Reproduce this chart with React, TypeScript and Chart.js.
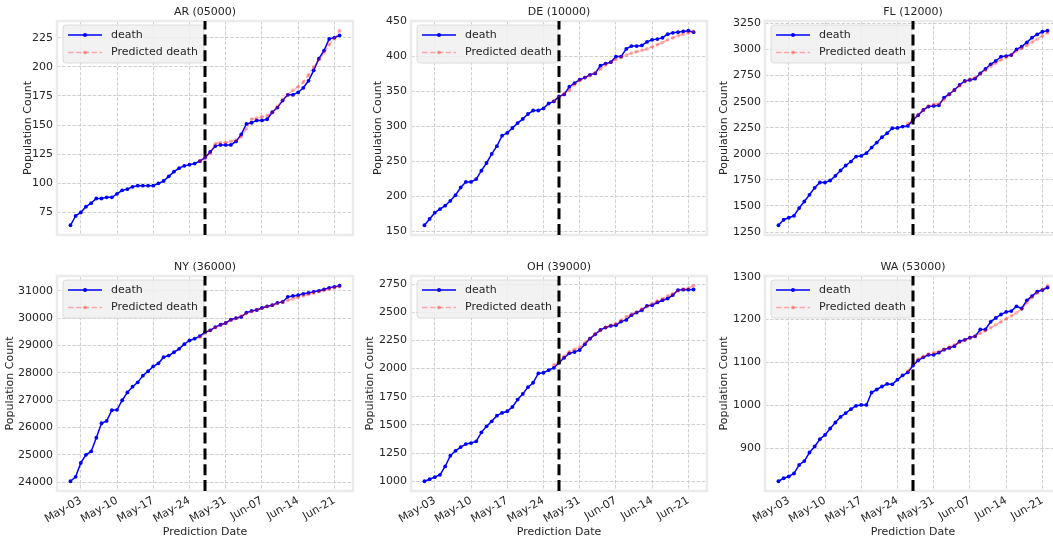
import React, { useEffect, useRef } from 'react';
import { Chart, registerables } from 'chart.js';

Chart.register(...registerables);

const FONT = "'DejaVu Sans', sans-serif";
const TEXT = '#262626';

const DATES = [
  'May-01', 'May-02', 'May-03', 'May-04', 'May-05', 'May-06', 'May-07', 'May-08', 'May-09', 'May-10',
  'May-11', 'May-12', 'May-13', 'May-14', 'May-15', 'May-16', 'May-17', 'May-18', 'May-19', 'May-20',
  'May-21', 'May-22', 'May-23', 'May-24', 'May-25', 'May-26', 'May-27', 'May-28', 'May-29', 'May-30',
  'May-31', 'Jun-01', 'Jun-02', 'Jun-03', 'Jun-04', 'Jun-05', 'Jun-06', 'Jun-07', 'Jun-08', 'Jun-09',
  'Jun-10', 'Jun-11', 'Jun-12', 'Jun-13', 'Jun-14', 'Jun-15', 'Jun-16', 'Jun-17', 'Jun-18', 'Jun-19',
  'Jun-20', 'Jun-21', 'Jun-22',
];
const X_TICK_LABELS = ['May-03', 'May-10', 'May-17', 'May-24', 'May-31', 'Jun-07', 'Jun-14', 'Jun-21'];
const SPLIT_DATE = 'May-27';
const PRED_START_DATE = 'May-26';

const AR_DEATH = [64, 72, 75, 80, 83, 87, 87, 88, 88, 91, 94, 95, 97, 98, 98, 98, 98, 100, 102, 106, 110, 113, 115, 116, 117, 119, 122, 127, 132, 133, 133, 133, 136, 142, 151, 152, 154, 154, 155, 161, 165, 171, 176, 176, 178, 182, 188, 197, 207, 214, 224, 225, 227];
const AR_PRED = [119, 122, 126, 134, 135, 135, 136, 137, 140, 147, 155, 156, 157, 158, 161, 166, 172, 176, 180, 183, 187, 193, 200, 206, 212, 219, 224, 231];
const AR_Y_TICKS = [75, 100, 125, 150, 175, 200, 225];

const DE_DEATH = [159, 168, 177, 182, 187, 194, 202, 213, 221, 221, 225, 237, 248, 261, 272, 287, 291, 298, 305, 311, 318, 323, 323, 326, 333, 336, 343, 346, 357, 362, 367, 370, 374, 376, 387, 390, 392, 400, 400, 411, 415, 415, 416, 421, 424, 425, 427, 432, 434, 435, 436, 437, 435];
const DE_PRED = [336, 342, 347, 352, 360, 366, 370, 373, 377, 382, 388, 392, 396, 399, 402, 405, 407, 409, 411, 414, 417, 420, 424, 427, 430, 432, 434, 436];
const DE_Y_TICKS = [150, 200, 250, 300, 350, 400, 450];

const FL_DEATH = [1315, 1368, 1387, 1406, 1480, 1543, 1607, 1674, 1725, 1725, 1744, 1789, 1840, 1888, 1926, 1974, 1980, 2006, 2060, 2108, 2159, 2197, 2245, 2248, 2261, 2267, 2325, 2370, 2421, 2453, 2459, 2465, 2539, 2571, 2612, 2660, 2698, 2708, 2720, 2772, 2813, 2858, 2890, 2931, 2937, 2947, 3001, 3027, 3068, 3113, 3145, 3170, 3180];
const FL_PRED = [2290, 2330, 2375, 2420, 2460, 2475, 2480, 2520, 2570, 2610, 2650, 2690, 2715, 2730, 2765, 2800, 2840, 2870, 2900, 2925, 2950, 2985, 3010, 3040, 3070, 3100, 3130, 3160];
const FL_Y_TICKS = [1250, 1500, 1750, 2000, 2250, 2500, 2750, 3000, 3250];

const NY_DEATH = [24040, 24200, 24710, 25005, 25130, 25630, 26160, 26245, 26635, 26650, 27000, 27285, 27495, 27655, 27900, 28060, 28240, 28350, 28575, 28635, 28755, 28880, 29050, 29185, 29250, 29345, 29490, 29555, 29675, 29760, 29825, 29945, 30005, 30045, 30205, 30265, 30300, 30375, 30435, 30475, 30560, 30595, 30780, 30815, 30840, 30890, 30925, 30965, 31000, 31050, 31110, 31145, 31185];
const NY_PRED = [29300, 29440, 29560, 29660, 29740, 29830, 29920, 29990, 30080, 30170, 30240, 30310, 30370, 30430, 30480, 30540, 30590, 30650, 30710, 30760, 30820, 30870, 30920, 30970, 31020, 31070, 31110, 31150];
const NY_Y_TICKS = [24000, 25000, 26000, 27000, 28000, 29000, 30000, 31000];

const OH_DEATH = [1000, 1018, 1036, 1057, 1131, 1226, 1270, 1303, 1330, 1339, 1354, 1434, 1487, 1532, 1582, 1606, 1621, 1660, 1725, 1775, 1835, 1874, 1957, 1963, 1986, 2007, 2052, 2096, 2135, 2147, 2165, 2215, 2266, 2304, 2343, 2364, 2379, 2385, 2417, 2432, 2474, 2497, 2518, 2557, 2563, 2587, 2607, 2622, 2652, 2697, 2700, 2700, 2702];
const OH_PRED = [2030, 2065, 2110, 2150, 2170, 2190, 2230, 2270, 2310, 2340, 2365, 2385, 2400, 2430, 2460, 2480, 2505, 2530, 2550, 2575, 2600, 2620, 2645, 2665, 2690, 2705, 2715, 2735];
const OH_Y_TICKS = [1000, 1250, 1500, 1750, 2000, 2250, 2500, 2750];

const WA_DEATH = [823, 830, 834, 841, 861, 870, 890, 904, 921, 931, 946, 960, 973, 982, 991, 999, 1001, 1001, 1030, 1037, 1044, 1050, 1049, 1060, 1070, 1077, 1093, 1105, 1112, 1118, 1118, 1123, 1130, 1134, 1138, 1149, 1153, 1158, 1161, 1177, 1177, 1195, 1204, 1212, 1218, 1220, 1231, 1226, 1245, 1255, 1265, 1269, 1275];
const WA_PRED = [1080, 1097, 1108, 1114, 1120, 1123, 1126, 1131, 1136, 1141, 1147, 1152, 1157, 1162, 1168, 1174, 1181, 1188, 1195, 1202, 1209, 1216, 1225, 1240, 1252, 1262, 1270, 1279];
const WA_Y_TICKS = [900, 1000, 1100, 1200, 1300];

const PANELS = [
  { title: 'AR (05000)', death: AR_DEATH, pred: AR_PRED, yTicks: AR_Y_TICKS },
  { title: 'DE (10000)', death: DE_DEATH, pred: DE_PRED, yTicks: DE_Y_TICKS },
  { title: 'FL (12000)', death: FL_DEATH, pred: FL_PRED, yTicks: FL_Y_TICKS },
  { title: 'NY (36000)', death: NY_DEATH, pred: NY_PRED, yTicks: NY_Y_TICKS },
  { title: 'OH (39000)', death: OH_DEATH, pred: OH_PRED, yTicks: OH_Y_TICKS },
  { title: 'WA (53000)', death: WA_DEATH, pred: WA_PRED, yTicks: WA_Y_TICKS },
];

// layout (pixels)
const PLOT_LEFT = [57, 411, 765];
const PLOT_TOP = [21, 276];
const PLOT_W = 296;
const PLOT_H = [214, 215];
const YTITLE_X = [28.3, 378.3, 725, 11, 370.7, 725];
const PAGE_W = 1053;
const PAGE_H = 542;

const BLUE = '#0000ff';
const PINK = 'rgba(255,0,0,0.3)';
const GRID = '#cbcbcb';

function Panel({ idx }: { idx: number }) {
  const ref = useRef<HTMLCanvasElement | null>(null);
  const p = PANELS[idx];
  const col = idx % 3;
  const row = Math.floor(idx / 3);
  const bottomRow = row === 1;
  const plotLeft = PLOT_LEFT[col];
  const plotTop = PLOT_TOP[row];
  const plotH = PLOT_H[row];
  const canvasLeft = Math.round(YTITLE_X[idx] - 6.6);
  const canvasTop = plotTop - 21;
  const yAxisW = plotLeft - canvasLeft;
  const xAxisH = bottomRow ? PAGE_H - (plotTop + plotH) : 14;
  const rightPad = 12;
  const cw = plotLeft + PLOT_W + rightPad - canvasLeft;
  const ch = 21 + plotH + xAxisH;

  useEffect(() => {
    if (!ref.current) return;
    const n = DATES.length;
    const predStart = DATES.indexOf(PRED_START_DATE);
    const all = [...p.death, ...p.pred];
    const lo = Math.min(...all);
    const hi = Math.max(...all);
    const yMin = lo - 0.05 * (hi - lo);
    const yMax = hi + 0.05 * (hi - lo);
    const font = { family: FONT, size: 11 };

    const deco = {
      id: 'deco',
      afterDatasetsDraw(chart: any) {
        const { ctx, chartArea } = chart;
        const { left, right, top, bottom } = chartArea;
        const x = chart.scales.x;
        ctx.save();
        // frame
        ctx.setLineDash([]);
        ctx.strokeStyle = '#ebebeb';
        ctx.lineWidth = 2.5;
        ctx.strokeRect(left, top, right - left, bottom - top);
        // title
        ctx.fillStyle = TEXT;
        ctx.font = `11px ${FONT}`;
        ctx.textAlign = 'center';
        ctx.textBaseline = 'middle';
        ctx.fillText(p.title, (left + right) / 2, top - 8.5);
        // legend
        const lx = left + 6;
        const ly = top + 4;
        const lw = 141;
        const lh = 38;
        ctx.beginPath();
        if (ctx.roundRect) ctx.roundRect(lx, ly, lw, lh, 3);
        else ctx.rect(lx, ly, lw, lh);
        ctx.fillStyle = 'rgba(240,240,240,0.85)';
        ctx.fill();
        ctx.strokeStyle = '#dcdcdc';
        ctx.lineWidth = 1;
        ctx.stroke();
        const rows = [
          { label: 'death', color: BLUE, dash: [] as number[], y: top + 14 },
          { label: 'Predicted death', color: PINK, dash: [5.5, 2.4], y: top + 31.5 },
        ];
        rows.forEach((r) => {
          ctx.strokeStyle = r.color;
          ctx.lineWidth = 1.5;
          ctx.setLineDash(r.dash);
          ctx.beginPath();
          ctx.moveTo(left + 11, r.y);
          ctx.lineTo(left + 45, r.y);
          ctx.stroke();
          ctx.setLineDash([]);
          ctx.fillStyle = r.color;
          ctx.beginPath();
          ctx.arc(left + 28, r.y, 2, 0, Math.PI * 2);
          ctx.fill();
          ctx.fillStyle = TEXT;
          ctx.textAlign = 'left';
          ctx.textBaseline = 'middle';
          ctx.fillText(r.label, left + 54, r.y);
        });
        // split line
        const sx = x.getPixelForValue(DATES.indexOf(SPLIT_DATE));
        ctx.strokeStyle = '#000';
        ctx.lineWidth = 3;
        ctx.setLineDash([11, 4.8]);
        ctx.beginPath();
        ctx.moveTo(sx, bottom);
        ctx.lineTo(sx, top);
        ctx.stroke();
        ctx.restore();
      },
    };

    const chart = new Chart(ref.current, {
      type: 'line',
      data: {
        datasets: [
          {
            label: 'death',
            data: p.death.map((v, i) => ({ x: i, y: v })),
            borderColor: BLUE,
            backgroundColor: BLUE,
            borderWidth: 1.5,
            pointRadius: 1.9,
            pointBorderWidth: 0,
            pointBackgroundColor: BLUE,
            tension: 0,
            order: 2,
          },
          {
            label: 'Predicted death',
            data: p.pred.map((v, i) => ({ x: predStart + i, y: v })),
            borderColor: PINK,
            backgroundColor: PINK,
            borderWidth: 1.5,
            borderDash: [5.5, 2.4],
            pointRadius: 1.9,
            pointBorderWidth: 0,
            pointBackgroundColor: PINK,
            tension: 0,
            order: 1,
          },
        ],
      },
      options: {
        responsive: false,
        animation: false,
        events: [],
        layout: { padding: { top: 21, left: 0, right: rightPad, bottom: 0 } },
        plugins: { legend: { display: false }, tooltip: { enabled: false }, title: { display: false } },
        scales: {
          x: {
            type: 'linear',
            bounds: 'data',
            min: -0.05 * (n - 1),
            max: (n - 1) * 1.05,
            afterBuildTicks: (s: any) => {
              s.ticks = X_TICK_LABELS.map((l) => ({ value: DATES.indexOf(l) }));
            },
            afterFit: (s: any) => {
              s.height = xAxisH;
            },
            ticks: {
              display: bottomRow,
              autoSkip: false,
              minRotation: 30,
              maxRotation: 30,
              padding: 3,
              font,
              color: TEXT,
              callback: (v: any) => DATES[Math.round(Number(v))],
            },
            grid: { color: GRID, lineWidth: 0.9, drawTicks: false },
            border: { display: false, dash: [3.5, 1.6] },
            title: {
              display: bottomRow,
              text: 'Prediction Date',
              font,
              color: TEXT,
              padding: { top: 0, bottom: 3.4 },
            },
          },
          y: {
            type: 'linear',
            bounds: 'data',
            min: yMin,
            max: yMax,
            afterBuildTicks: (s: any) => {
              s.ticks = p.yTicks.map((v) => ({ value: v }));
            },
            afterFit: (s: any) => {
              s.width = yAxisW;
            },
            ticks: {
              autoSkip: false,
              padding: 4,
              font,
              color: TEXT,
              callback: (v: any) => String(v),
            },
            grid: { color: GRID, lineWidth: 0.9, drawTicks: false },
            border: { display: false, dash: [3.5, 1.6] },
            title: {
              display: true,
              text: 'Population Count',
              font,
              color: TEXT,
              padding: 0,
            },
          },
        },
      },
      plugins: [deco],
    } as any);
    return () => chart.destroy();
  }, [idx]);

  return (
    <canvas
      ref={ref}
      width={cw}
      height={ch}
      style={{ position: 'absolute', left: canvasLeft, top: canvasTop, width: cw, height: ch }}
    />
  );
}

export default function App() {
  return (
    <div
      style={{
        position: 'fixed',
        left: 0,
        top: 0,
        width: PAGE_W,
        height: PAGE_H,
        overflow: 'hidden',
        background: '#ffffff',
      }}
    >
      {PANELS.map((_, i) => (
        <Panel key={i} idx={i} />
      ))}
    </div>
  );
}
